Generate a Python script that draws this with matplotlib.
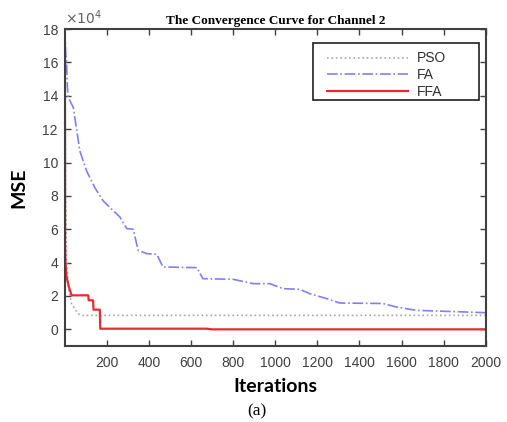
import matplotlib.pyplot as plt
from matplotlib import patches

# MSE values are in units of 1e4
pso_iter = [0, 3, 8, 16, 31, 62, 80, 2000]
pso_mse = [18.0, 8.0, 4.2, 2.55, 1.55, 0.94, 0.84, 0.84]

fa_iter = [0, 4, 8, 12, 16, 40, 71, 103, 142, 182, 261, 294, 325, 348,
           389, 437, 466, 627, 656, 800, 895, 974, 1036, 1116, 1164, 1245,
           1306, 1512, 1575, 1670, 1765, 2000]
fa_mse = [18.0, 16.5, 16.0, 14.5, 13.9, 13.3, 10.7, 9.5, 8.5, 7.7, 6.74,
          6.04, 6.0, 4.74, 4.54, 4.5, 3.74, 3.7, 3.04, 3.0, 2.74, 2.74,
          2.44, 2.4, 2.14, 1.84, 1.58, 1.55, 1.34, 1.14, 1.1, 1.0]

ffa_iter = [0, 1, 3, 8, 19, 32, 111, 113, 134, 136, 166, 168, 674, 700, 2000]
ffa_mse = [18.0, 5.0, 3.94, 3.14, 2.54, 2.04, 2.04, 1.74, 1.74, 1.18, 1.18,
           0.04, 0.04, 0.0, 0.0]

x_ticks = list(range(200, 2001, 200))
y_ticks = list(range(0, 19, 2))

fig = plt.figure(figsize=(5.07, 4.22), dpi=100)
ax = fig.add_axes([0.128, 0.180, 0.830, 0.751])

ax.plot(pso_iter, pso_mse, color='#a8a8a8', linestyle=':', linewidth=1.2,
        label='PSO')
ax.plot(fa_iter, fa_mse, color='#8080f0', linestyle='-.', linewidth=1.2,
        label='FA')
ax.plot(ffa_iter, ffa_mse, color='#e82a34', linestyle='-', linewidth=1.6,
        label='FFA')

ax.set_xlim(0, 2000)
ax.set_ylim(-1, 18)
ax.set_xticks(x_ticks)
ax.set_yticks(y_ticks)
ax.tick_params(direction='in', top=True, right=True, length=4, width=1,
               colors='#404040', labelsize=10)
ax.tick_params(axis='x', pad=7)
ax.tick_params(axis='y', pad=5)
for lbl in ax.get_xticklabels() + ax.get_yticklabels():
    lbl.set_family('Liberation Sans')
for sp in ax.spines.values():
    sp.set_color('#404040')
    sp.set_linewidth(1.5)

ax.text(0.0, 1.008, r'$\times 10^4$', transform=ax.transAxes, ha='left',
        va='bottom', fontsize=10, color='#606060', family='Liberation Sans')

ax.set_title('The Convergence Curve for Channel 2', fontsize=9.5,
             fontweight='bold', family='Liberation Serif', pad=4)
ax.set_ylabel('MSE', fontsize=14, fontweight='bold', family='Lato',
              labelpad=11)
ax.set_xlabel('Iterations', fontsize=14, fontweight='bold', family='Lato',
              labelpad=6)

# MATLAB-style legend: wide box with empty room right of the labels
leg = ax.legend(loc='upper left', bbox_to_anchor=(0.603, 0.956),
                borderaxespad=0, frameon=False, handlelength=5.8,
                handletextpad=0.65, borderpad=0.6, labelspacing=0.2,
                prop={'family': 'Liberation Sans', 'size': 10})
for t in leg.get_texts():
    t.set_color('#303030')
ax.add_patch(patches.Rectangle((0.589, 0.776), 0.394, 0.180,
                               transform=ax.transAxes, fill=False,
                               edgecolor='#202020', linewidth=1.2,
                               zorder=5))

fig.text(0.506, 0.024, '(a)', ha='center', va='center', fontsize=12.5,
         family='Liberation Serif')

fig.savefig('out.png', dpi=100)
